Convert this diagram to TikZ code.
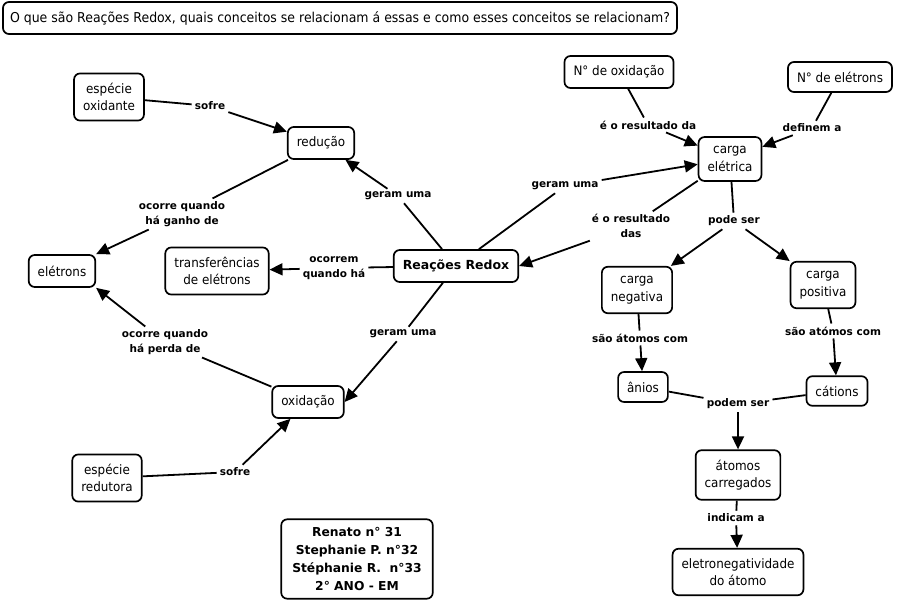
\documentclass[tikz,border=0pt]{standalone}
\usepackage{fontspec}
\setmainfont{DejaVu Sans}
\newfontfamily\cfont[FakeStretch=0.92]{DejaVu Sans}
\usetikzlibrary{arrows.meta}
\begin{document}
\begin{tikzpicture}[x=1pt,y=-1pt,
  concept/.style={draw, line width=1.7pt, rounded corners=6pt, align=center,
    font=\cfont\fontsize{13}{17.5}\selectfont, inner xsep=9pt, inner ysep=9.5pt, minimum height=32pt},
  lbl/.style={font=\bfseries\fontsize{10.5}{14.5}\selectfont, align=center, inner sep=3pt},
  link/.style={line width=1.8pt},
  arr/.style={line width=1.8pt, -{Triangle[length=13pt,width=12pt]}},
]
\useasboundingbox (0,0) rectangle (897,602);

% concepts
\node[concept, minimum width=672pt, inner xsep=7pt, inner ysep=4pt, font=\cfont\fontsize{13.6}{17}\selectfont] (title) at (340,18)
  {O que são Reações Redox, quais conceitos se relacionam á essas e como esses conceitos se relacionam?};
\node[concept] (oxte) at (109,97) {espécie\\oxidante};
\node[concept] (red) at (321,143) {redução};
\node[concept] (ele) at (62,271) {elétrons};
\node[concept] (trans) at (217,271) {transferências\\de elétrons};
\node[concept, font=\bfseries\fontsize{12.5}{17.5}\selectfont] (redox) at (456,266) {Reações Redox};
\node[concept] (oxi) at (308,402) {oxidação};
\node[concept] (redu) at (107,478) {espécie\\redutora};
\node[concept] (nox) at (619,72) {N° de oxidação};
\node[concept, minimum height=30pt] (nel) at (840,77) {N° de elétrons};
\node[concept] (carga) at (730,159) {carga\\elétrica};
\node[concept] (neg) at (637,290) {carga\\negativa};
\node[concept] (pos) at (823,285) {carga\\positiva};
\node[concept, minimum height=30pt] (anions) at (643,387) {ânios};
\node[concept, minimum height=29pt] (cations) at (837,391) {cátions};
\node[concept] (atom) at (738,475) {átomos\\carregados};
\node[concept] (eneg) at (738,572) {eletronegatividade\\do átomo};
\node[concept, font=\bfseries\fontsize{12.3}{18}\selectfont, inner xsep=11pt, inner ysep=8pt] (auth) at (357,559)
  {Renato n° 31\\Stephanie P. n°32\\Stéphanie R.\ \ n°33\\2° ANO - EM};

% linking phrases
\node[lbl] (l1) at (210,106) {sofre};
\node[lbl] (l2) at (182,214) {ocorre quando\\há ganho de};
\node[lbl] (l3) at (398,196) {geram uma};
\node[lbl] (l4) at (334,268) {ocorrem\\quando há};
\node[lbl] (l5) at (403,334) {geram uma};
\node[lbl] (l6) at (165,342) {ocorre quando\\há perda de};
\node[lbl] (l7) at (235,472) {sofre};
\node[lbl] (l8) at (565,186) {geram uma};
\node[lbl] (l9) at (631,226) {é o resultado\\das};
\node[lbl] (l10) at (648,125) {é o resultado da};
\node[lbl] (l11) at (812,128) {definem a};
\node[lbl] (l12) at (734,221) {pode ser};
\node[lbl] (l13) at (640,338) {são átomos com};
\node[lbl] (l14) at (833,331) {são atómos com};
\node[lbl] (l15) at (738,404) {podem ser};
\node[lbl] (l16) at (736,518) {indicam a};

% connectors
\draw[link] (oxte) -- (l1);  \draw[arr] (l1) -- (red);
\draw[link] (red) -- (l2);   \draw[arr] (l2) -- (ele.north east);
\draw[link] (redox) -- (l3); \draw[arr] (l3) -- (red);
\draw[link] (redox) -- (l4); \draw[arr] (l4) -- (trans);
\draw[link] (redox) -- (l5); \draw[arr] (l5) -- (oxi.east);
\draw[link] (oxi) -- (l6);   \draw[arr] (l6) -- (ele.south east);
\draw[link] (redu) -- (l7);  \draw[arr] (l7) -- (oxi);
\draw[link] (redox) -- (l8); \draw[arr] (l8) -- (carga);
\draw[link] (carga.214) -- (l9); \draw[arr] (l9) -- (redox.east);
\draw[link] (nox) -- (l10);  \draw[arr] (l10) -- (carga);
\draw[link] (nel) -- (l11);  \draw[arr] (l11) -- (carga);
\draw[link] (carga) -- (l12);
\draw[arr] (l12) -- (neg); \draw[arr] (l12) -- (pos);
\draw[link] (neg) -- (l13);  \draw[arr] (l13) -- (anions);
\draw[link] (pos) -- (l14);  \draw[arr] (l14) -- (cations);
\draw[link] (anions) -- (l15); \draw[link] (cations) -- (l15);
\draw[arr] (l15) -- (atom);
\draw[link] (atom) -- (l16); \draw[arr] (l16) -- (eneg);
\end{tikzpicture}
\end{document}
